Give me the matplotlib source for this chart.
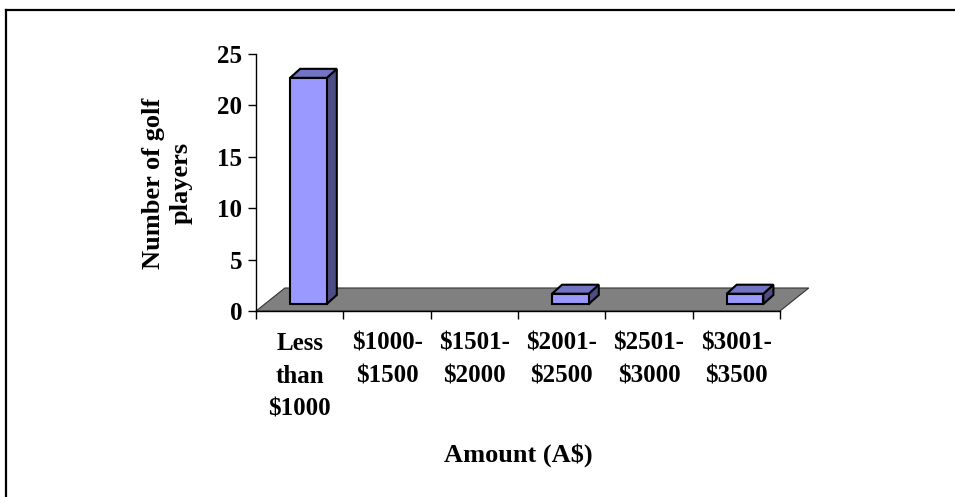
import matplotlib
matplotlib.use("Agg")
import matplotlib.pyplot as plt
from matplotlib.patches import Polygon, Rectangle
from matplotlib.lines import Line2D

# spending brackets and player counts
categories = ["Less\nthan\n\\$1000", "\\$1000-\n\\$1500", "\\$1501-\n\\$2000",
              "\\$2001-\n\\$2500", "\\$2501-\n\\$3000", "\\$3001-\n\\$3500"]
players = [22, 0, 0, 1, 0, 1]
y_ticks = [0, 5, 10, 15, 20, 25]

plt.rcParams["font.family"] = ["Liberation Serif", "DejaVu Serif"]
plt.rcParams["font.weight"] = "bold"
FS = 18
TITLE_FS = 19

fig = plt.figure(figsize=(9.55, 4.97), dpi=100)
ax = fig.add_axes([0.2681, 0.3742, 0.5806, 0.5171])
ax.set_xlim(0, 6.35)
ax.set_ylim(0, 25)

# floor depth (in data units) and bar geometry
floor_dx, floor_dy = 0.33, 2.24
bar_off, bar_w, bar_base = 0.39, 0.42, 0.68
bar_dx, bar_dy = 0.115, 0.88

n = len(categories)
floor = Polygon([(0, 0), (n, 0), (n + floor_dx, floor_dy), (floor_dx, floor_dy)],
                closed=True, facecolor="#808080", edgecolor="#333333", lw=0.8,
                clip_on=False, zorder=1)
ax.add_patch(floor)

for i, v in enumerate(players):
    if v == 0:
        continue
    x0 = i + bar_off
    y0 = bar_base
    top = y0 + v
    side = Polygon([(x0 + bar_w, y0), (x0 + bar_w + bar_dx, y0 + bar_dy),
                    (x0 + bar_w + bar_dx, top + bar_dy), (x0 + bar_w, top)],
                   closed=True, facecolor="#4D4D85", edgecolor="black", lw=1.5,
                   joinstyle="miter", clip_on=False, zorder=3)
    cap = Polygon([(x0, top), (x0 + bar_w, top), (x0 + bar_w + bar_dx, top + bar_dy),
                   (x0 + bar_dx, top + bar_dy)],
                  closed=True, facecolor="#7373C4", edgecolor="black", lw=1.5,
                  joinstyle="miter", clip_on=False, zorder=3)
    front = Rectangle((x0, y0), bar_w, v, facecolor="#9999FF", edgecolor="black",
                      lw=1.5, joinstyle="miter", clip_on=False, zorder=4)
    ax.add_patch(side)
    ax.add_patch(cap)
    ax.add_patch(front)

# axes styling
for s in ["top", "right"]:
    ax.spines[s].set_visible(False)
ax.spines["bottom"].set_bounds(0, n)
ax.spines["left"].set_linewidth(1.0)
ax.spines["bottom"].set_linewidth(1.0)
ax.spines["bottom"].set_zorder(2)

ax.set_yticks(y_ticks)
ax.set_yticklabels([str(t) for t in y_ticks], fontsize=FS, fontweight="bold")
ax.set_xticks(range(n + 1))
ax.set_xticklabels([])
ax.set_xticks([i + 0.5 for i in range(n)], minor=True)
ax.set_xticklabels(categories, minor=True, fontsize=FS, fontweight="bold",
                   linespacing=1.55)
ax.tick_params(axis="x", which="major", direction="out", length=6, width=1)
ax.tick_params(axis="x", which="minor", length=0, pad=15)
ax.tick_params(axis="y", direction="out", length=6, width=1, pad=4)
ax.patch.set_visible(False)

fig.text(167 / 955, 1 - 183 / 497, "Number of golf\nplayers", rotation=90,
         ha="center", va="center", multialignment="center",
         fontsize=TITLE_FS, fontweight="bold", linespacing=1.25)
fig.text(518 / 955, 1 - 455 / 497, "Amount (A$)", ha="center", va="center",
         fontsize=TITLE_FS, fontweight="bold", parse_math=False)

# chart frame
fig.add_artist(Line2D([6 / 955, 1], [1 - 10 / 497, 1 - 10 / 497], color="black", lw=1.6))
fig.add_artist(Line2D([6 / 955, 6 / 955], [1 - 10 / 497, 0], color="black", lw=1.6))

fig.savefig("out.png", dpi=100)
